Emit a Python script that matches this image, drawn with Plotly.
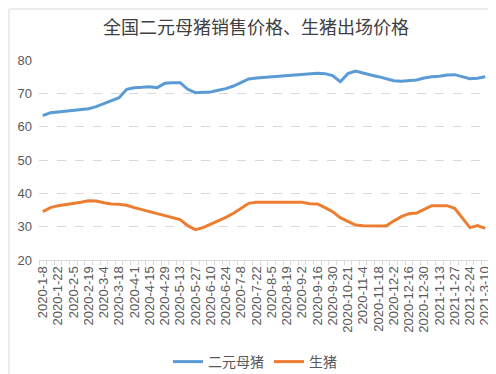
import plotly.graph_objects as go

dates = [
    "2020-1-8", "2020-1-15", "2020-1-22", "2020-1-29", "2020-2-5", "2020-2-12",
    "2020-2-19", "2020-2-26", "2020-3-4", "2020-3-11", "2020-3-18", "2020-3-25",
    "2020-4-1", "2020-4-8", "2020-4-15", "2020-4-22", "2020-4-29", "2020-5-6",
    "2020-5-13", "2020-5-20", "2020-5-27", "2020-6-3", "2020-6-10", "2020-6-17",
    "2020-6-24", "2020-7-1", "2020-7-8", "2020-7-15", "2020-7-22", "2020-7-29",
    "2020-8-5", "2020-8-12", "2020-8-19", "2020-8-26", "2020-9-2", "2020-9-9",
    "2020-9-16", "2020-9-23", "2020-9-30", "2020-10-14", "2020-10-21", "2020-10-28",
    "2020-11-4", "2020-11-11", "2020-11-18", "2020-11-25", "2020-12-2", "2020-12-9",
    "2020-12-16", "2020-12-23", "2020-12-30", "2021-1-6", "2021-1-13", "2021-1-20",
    "2021-1-27", "2021-2-17", "2021-2-24", "2021-3-3", "2021-3-10",
]

sow_price = [
    63.3, 64.2, 64.4, 64.6, 64.8, 65.1, 65.4, 66.0, 66.9, 68.0,
    68.7, 71.2, 71.7, 71.8, 72.0, 71.7, 73.0, 73.2, 73.2, 71.2,
    70.2, 70.3, 70.4, 70.9, 71.4, 72.2, 73.2, 74.3, 74.6, 74.8,
    74.9, 75.1, 75.4, 75.5, 75.7, 75.8, 76.0, 75.9, 75.3, 73.5,
    75.9, 76.7, 76.0, 75.5, 75.0, 74.5, 73.8, 73.6, 73.8, 74.0,
    74.6, 75.0, 75.1, 75.5, 75.6, 75.0, 74.4, 74.5, 75.0,
]

hog_price = [
    34.5, 35.7, 36.3, 36.6, 36.9, 37.3, 37.8, 37.7, 37.2, 36.8,
    36.7, 36.4, 35.7, 35.1, 34.5, 34.0, 33.5, 32.7, 32.1, 30.3,
    29.1, 29.7, 30.7, 31.8, 32.8, 34.0, 35.5, 37.0, 37.3, 37.3,
    37.5, 37.4, 37.3, 37.4, 37.3, 36.9, 36.8, 35.7, 34.5, 32.7,
    31.5, 30.5, 30.3, 30.3, 30.2, 30.2, 31.7, 33.0, 33.9, 34.1,
    35.2, 36.3, 36.3, 36.3, 35.5, 32.7, 29.7, 30.3, 29.5,
]

series_names = ["二元母猪", "生猪"]
y_ticks = [20, 30, 40, 50, 60, 70, 80]
title_text = "全国二元母猪销售价格、生猪出场价格"

idx = list(range(len(dates)))
label_idx = idx[::2]

fig = go.Figure()
fig.add_trace(go.Scatter(x=idx, y=sow_price, mode="lines", name=series_names[0],
                         line=dict(color="#5B9BD5", width=3)))
fig.add_trace(go.Scatter(x=idx, y=hog_price, mode="lines", name=series_names[1],
                         line=dict(color="#ED7D31", width=3)))

W, H = 496, 374
L, R, T, B = 31, 15, 52, 122
pw = W - L - R
ph = H - T - B

fig.update_layout(
    width=W, height=H,
    margin=dict(l=L, r=R, t=T, b=B, pad=0, autoexpand=False),
    paper_bgcolor="white", plot_bgcolor="white",
    font=dict(family="Liberation Sans, Arial, Noto Sans CJK SC", color="#595959"),
    title=dict(text=title_text, x=0.5, xref="container", xanchor="center",
               y=1 - 20 / H, yref="container", yanchor="middle",
               font=dict(size=18, color="#404040", family="Noto Sans CJK SC")),
    showlegend=True,
    legend=dict(orientation="h", xref="container", x=0.498, xanchor="center",
                yref="container", y=1 - 354 / H, yanchor="middle",
                font=dict(size=14, color="#595959", family="Noto Sans CJK SC"),
                itemwidth=30, tracegroupgap=0, bgcolor="rgba(0,0,0,0)"),
    xaxis=dict(
        range=[-0.5, len(dates) - 0.5], showgrid=False, zeroline=False,
        showline=True, linecolor="#D9D9D9", linewidth=1,
        tickmode="array", tickvals=label_idx, ticktext=[dates[i] for i in label_idx],
        tickangle=-90, ticks="", tickfont=dict(size=13, color="#595959"),
        minor=dict(tick0=-0.5, dtick=1, ticks="outside", ticklen=4,
                   tickcolor="#D9D9D9", tickwidth=1, showgrid=False),
    ),
    yaxis=dict(
        range=[20, 80], tickmode="array", tickvals=y_ticks,
        showgrid=True, gridcolor="#D9D9D9", griddash="dash", gridwidth=1,
        zeroline=False, showline=False, ticks="",
        tickfont=dict(size=13, color="#595959"), ticklabelstandoff=6,
    ),
    shapes=[dict(type="rect", xref="paper", yref="paper",
                 x0=(1 - L) / pw, x1=(W - 1 - L) / pw,
                 y0=(ph - (H - 2 - T)) / ph, y1=(ph - (1 - T)) / ph,
                 line=dict(color="#D9D9D9", width=1), fillcolor="rgba(0,0,0,0)",
                 layer="below")],
)

fig.write_html("out.html")
